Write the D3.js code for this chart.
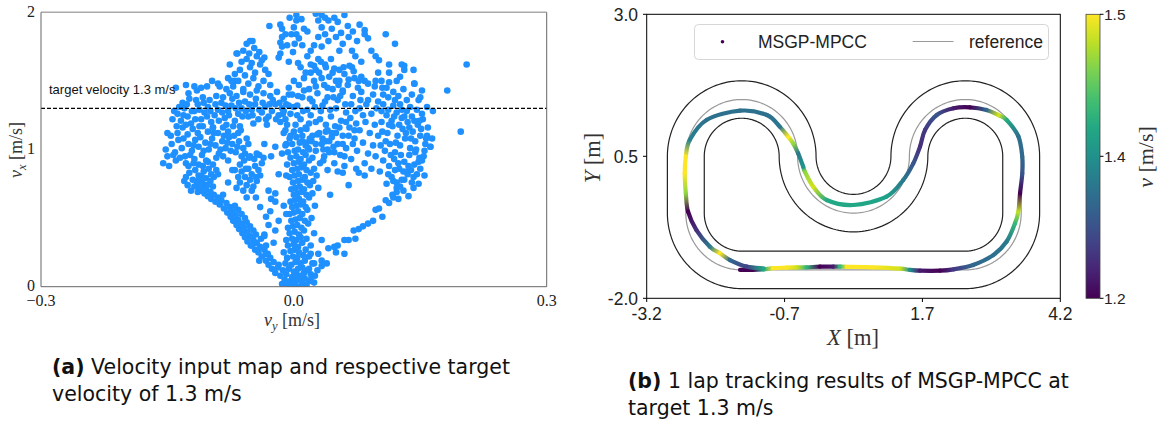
<!DOCTYPE html>
<html><head><meta charset="utf-8">
<script src="https://cdn.jsdelivr.net/npm/d3@7"></script>
<style>body{margin:0;background:#fff}svg{display:block}</style>
</head><body>
<svg id="fig" width="1168" height="427"></svg>
<script>
// ---------- (a) velocity input map, points as [vy*1000, vx*100]
var sApex=[[-14,2],[-8,1],[-3,0],[2,1],[6,0],[11,2],[15,1],[-11,5],[-5,4],[0,3],[4,5],[9,4],[13,6],[18,4],[20,5],[25,8],[28,12],[24,3],
[-16,8],[-9,9],[-2,7],[3,9],[7,8],[12,10],[20,9],[-13,12],[-6,13],[0,11],[5,13],[10,14],[16,12],
[-18,16],[-10,17],[-3,16],[2,18],[8,17],[13,19],[22,17],[-8,21],[-1,22],[4,21],[11,23],[18,22],
[-12,25],[-4,26],[1,27],[6,25],[14,27],[-7,30],[0,31],[5,29],[10,32],[20,30],
[-9,34],[-2,35],[3,34],[8,36],[15,35],[-5,39],[1,40],[6,38],[12,41],[24,39],
[-7,43],[-1,44],[4,45],[9,43],[17,46],[-3,48],[2,49],[7,50],[13,48],[21,50],
[-5,53],[0,54],[5,55],[10,53],[16,56],[-2,58],[3,59],[8,60],[14,58],[25,59],
[-4,62],[1,63],[6,64],[11,62],[18,65],[0,67],[4,68],[9,69],[15,67],[22,68],
[-3,71],[2,72],[7,73],[12,71],[19,74],[29,72],[-1,76],[5,77],[10,78],[16,76],[23,77],
[-5,80],[1,81],[6,82],[13,80],[20,83],[27,81],[-2,85],[4,86],[9,87],[15,85],[24,86],
[-8,89],[0,90],[6,91],[12,89],[18,92],[31,90],[-4,94],[3,95],[8,93],[14,96],[22,94],[36,95],
[-7,98],[1,99],[5,100],[11,98],[17,101],[26,99],[40,100],[-10,103],[-2,104],[7,105],[14,103],[21,106],[33,104],
[-5,108],[3,109],[10,110],[19,108],[28,111],[45,109],[-12,112],[0,113],[8,114],[15,115],[38,113]]
var sLeftArm=[[-22,10],[-26,13],[-19,14],[-30,16],[-24,18],[-33,19],[-28,21],
[-38,22],[-31,24],[-42,25],[-35,27],[-46,27],[-40,29],[-51,30],[-33,30],
[-44,32],[-55,33],[-48,34],[-39,35],[-58,36],[-52,37],[-45,38],[-61,39],[-55,40],
[-48,41],[-65,42],[-59,43],[-52,44],[-68,45],[-62,46],[-56,47],[-72,48],[-66,49],[-58,50],
[-75,51],[-69,52],[-62,53],[-79,54],[-73,55],[-66,56],[-83,57],[-76,58],[-70,59],[-88,60],
[-80,61],[-93,62],[-86,63],[-98,64],[-90,65],[-102,66],[-95,67],[-84,67],[-106,68],[-99,69],[-110,70],
[-104,71],[-112,72],[-96,73],[-115,74],[-108,75],
[-35,37],[-30,45],[-28,55],[-40,58],[-22,62],[-45,65],[-30,70],[-18,48],[-50,30]]
var sLeftLow=[[-128,80],[-124,83],[-120,78],[-117,85],[-113,81],[-110,76],[-107,84],[-104,79],[-101,86],[-98,82],[-126,74],[-122,70],[-118,73],[-114,69],[-111,72],[-106,71],[-103,74],[-99,77],[-95,80],[-92,85],[-125,88],[-119,90],[-113,89],[-108,88],[-102,91],[-96,89],[-130,77],[-115,77],[-109,80],
[-68,72],[-64,76],[-60,70],[-56,74],[-52,78],[-48,73],[-44,77],[-40,81],[-66,80],[-62,84],[-58,80],[-54,86],[-50,82],[-46,88],[-42,85],[-38,90],[-64,89],[-59,92],[-53,94],[-47,93],[-41,96],[-36,94],[-70,85],[-45,80],[-57,86],[-50,70],[-62,95]]
var sLeftMid=[[-155,90],[-150,95],[-148,88],[-152,100],[-145,104],[-141,98],[-137,107],[-133,101],[-129,95],[-125,104],[-121,99],[-117,107],[-113,102],[-109,96],[-105,105],[-101,100],[-97,108],[-93,103],[-89,97],[-85,106],[-81,101],[-77,109],[-73,104],[-69,98],[-65,106],[-138,112],[-132,116],[-126,111],[-120,115],[-114,112],[-108,117],[-102,113],[-96,116],[-90,112],[-84,116],[-78,113],[-72,117],[-66,112],[-60,101],[-56,108],[-140,92],[-128,90],[-118,93],[-104,92],[-92,94],[-146,110],[-150,112],
[-143,96],[-135,94],[-131,108],[-123,96],[-119,103],[-111,109],[-107,99],[-99,104],[-95,112],[-87,100],[-83,110],[-79,105],[-75,99],[-71,110],[-67,102],[-63,114],[-58,97],[-54,104]]
var sUpperLeft=[[-138,126],[-134,121],[-130,130],[-126,124],[-122,119],[-118,128],[-114,133],[-110,122],[-106,127],[-102,131],[-98,120],[-94,125],[-90,129],[-86,134],[-82,123],[-78,128],[-74,132],[-70,121],[-66,126],[-62,130],[-58,135],[-54,124],[-50,129],[-46,133],[-42,122],[-38,127],[-34,131],[-30,124],[-26,128],[-22,133],[-18,125],[-14,130],[-10,122],
[-132,134],[-124,137],[-116,136],[-108,138],[-100,136],[-92,139],[-84,138],[-76,141],[-68,139],[-60,142],[-52,140],[-44,143],[-36,141],[-28,139],[-20,142],[-12,137],
[-128,118],[-112,117],[-96,116],[-80,118],[-64,117],[-48,119],[-32,118],[-16,120],[-4,126],[0,131],
[-140,145],[-128,147],[-115,143],[-103,146],[-90,148],[-80,144],[-70,150],[-97,150],[-118,146],[-125,141],[-110,145],[-88,146],[-74,150],
[-136,131],[-131,125],[-127,133],[-121,128],[-117,122],[-112,129],[-107,134],[-103,124],[-99,128],[-93,133],[-89,121],[-85,127],[-81,132],[-77,125],[-73,137],[-69,130],[-65,134],[-61,124],[-57,128],[-53,133],[-49,125],[-45,137],[-41,129],[-37,134],[-33,122],[-29,133],[-25,136],[-21,122],[-17,134],[-13,126],[-9,133],[-6,140],[-142,128],[-144,122],[-139,117],
[-72,146],[-66,150],[-60,144],[-54,148],[-48,152],[-42,146],[-36,150],[-70,155],[-64,158],[-58,154],[-52,160],[-46,156],[-40,162],[-34,158],[-62,164],[-56,166],[-50,163],[-44,168],[-38,165],[-68,170],[-60,172],[-53,170],[-47,174],[-41,171],[-35,167],[-56,177],[-49,179],[-76,162],[-78,152],[-30,155],[-28,147],[-67,170],[-52,179]]
var sTop=[[-29,190],[-16,191],[-14,188],[-10,184],[-14,182],[-16,178],[-14,175],[-16,170],[-18,167],[-3,184],[3,184],[1,177],[3,198],[3,194],[9,195],[26,199],[29,194],[33,198],[37,196],[41,194],[48,196],[52,193],[60,198],[33,189],[37,184],[29,182],[24,176],[33,175],[41,179],[50,182],[56,185],[58,177],[54,172],[65,182],[69,172],[75,179],[84,187],[84,184],[88,181],[92,172],[97,168],[101,165],[109,184],[120,177],[128,162],[131,161],[20,172],[16,168],[29,166],[24,161],[37,162],[20,156],[46,156],[54,158],[69,160],[80,153],[88,148],[97,150],[105,145],[113,162],[113,156],[113,149],[80,164],[73,168],[58,143],[50,150],[143,148],
[-5,196],[0,189],[12,188],[6,181],[-8,176],[-1,171],[10,176],[16,186],[45,188],[64,190],[70,186],[78,191],[-6,164],[5,163]]
var sCenter=[[2,118],[8,122],[14,116],[20,125],[26,120],[32,128],[38,118],[44,124],[50,130],[56,121],[62,127],[68,133],[74,119],[4,132],[10,138],[16,129],[22,135],[28,141],[34,132],[40,138],[46,144],[52,136],[58,142],[64,147],[70,139],[76,145],[6,147],[12,152],[18,144],[24,150],[30,156],[36,147],[42,153],[48,159],[54,150],[60,155],[66,161],[72,152],[-2,140],[0,150],[-6,145],[8,160],[14,156],[20,162],[26,158],[32,164],[38,160],[44,166],[15,105],[22,110],[30,112],[42,106],[50,112],[58,104],[65,110],[72,114],[35,100],[48,98],[60,95],[-8,118],[-12,128],[-6,132],[82,125],[86,133],[80,142],[84,150],
[4,125],[11,128],[18,119],[25,131],[31,122],[37,135],[43,129],[49,117],[55,139],[61,133],[67,123],[73,128],[79,136],[5,139],[12,143],[19,137],[26,146],[33,152],[40,145],[47,138],[53,147],[59,160],[65,151],[71,157],[77,150],[10,106],[18,100],[26,104],[34,108],[40,114],[47,102],[54,116],[62,120],[70,104],[-4,110],[-10,114]]
var sRight=[[110,75],[116,80],[122,72],[128,78],[134,84],[140,76],[146,82],[113,88],[119,93],[125,86],[131,91],[137,96],[143,89],[149,94],[155,99],[108,99],[114,104],[120,98],[126,103],[132,108],[138,101],[144,106],[150,110],[156,104],[162,102],[111,112],[117,117],[123,110],[129,115],[135,120],[141,113],[147,118],[153,122],[159,116],[104,120],[110,125],[116,121],[122,127],[128,123],[134,128],[140,124],[146,129],[152,126],[98,130],[104,128],[96,118],[100,110],[106,92],[102,84],[117,67],[124,64],[130,70],[136,66],[142,72],[150,86],[158,110],[164,108],[105,113],[92,126],[118,132],[126,133],[138,131],[144,98],[148,75],[120,85],
[112,82],[118,77],[124,90],[130,84],[136,88],[142,80],[148,91],[154,95],[109,106],[115,96],[121,105],[127,96],[133,112],[139,108],[145,100],[151,115],[157,108],[113,118],[119,124],[125,118],[131,124],[137,116],[143,121],[149,121],[106,133],[112,129],[120,136],[128,129],[103,103],[97,95],
[35,92],[42,98],[48,90],[55,96],[62,101],[68,93],[75,99],[82,105],[88,97],[94,103],[38,106],[45,112],[52,104],[58,110],[66,116],[72,108],[78,114],[85,120],[90,112],[40,85],[52,84],[60,88],[74,86],[84,90],[92,86],[78,130],[88,136],[94,140],[100,135],[106,140],[112,138],[96,146],[104,150],[110,145],[118,142],[124,139],[130,144],[140,140],[148,136],[134,136],[122,150],[100,156],
[43,67],[58,83],[65,74],[77,83],[84,81]]
var sRightArm=[[18,13],[24,17],[33,19],[29,24],[41,28],[48,29],[52,30],[60,34],[65,34],[73,35],[71,41],[77,42],[82,44],[88,46],[94,48],[97,56],[101,57],[105,51],[109,63],[113,61],[118,65],[122,69],[126,73],[122,76],[131,78],[135,82],[139,85],[155,81],[152,92],[33,15],[39,17],[20,24],[33,34],[50,25],[60,24]]
var sSparse=[[-22,68],[-9,53],[-33,51],[-22,41],[-35,38],[-24,32],[-33,24],[-41,19],[-27,64],[-12,59],[-18,82],[-9,81],[-27,95],[-14,97],[-22,102],[-9,104],[-35,104],[-44,97],[-52,95],[-73,85],[-78,92],[-84,95],[-90,82],[-78,76],[-56,65],
[205,162],[182,143],[198,113],[165,128],[162,102],[158,131],[150,138],[143,148],[142,158],[152,143],[131,158],[126,153]]
var targetV=1.3
var vyTicks=[-0.3,0,0.3]
var vxTicks=[0,1,2]

// ---------- (b) track (centre line pieces) and lap
var trackSegs=[["L",-1.5,-1.5,2.5,-1.5],["A",2.5,-0.5,1,-90,0],["L",3.5,-0.5,3.5,0.5],["A",2.5,0.5,1,0,180],
["A",0.5,0.5,1,0,-180],["A",-1.5,0.5,1,0,180],["L",-2.5,0.5,-2.5,-0.5],["A",-1.5,-0.5,1,180,270]]
var halfWidth=0.33
var trajX=[-1.53,-1.30,-1.11,-0.94,-0.70,-0.52,-0.34,-0.10,0.14,0.26,0.38,0.85,1.33,1.51,1.69,2.05,2.29,2.64,3.00,3.24,3.39,3.45,3.48,3.52,3.52,3.45,3.24,3.09,2.88,2.58,2.29,1.99,1.78,1.69,1.57,1.39,1.09,0.50,0.02,-0.22,-0.37,-0.40,-0.49,-0.58,-0.67,-0.82,-1.05,-1.53,-2.13,-2.43,-2.50,-2.52,-2.50,-2.46,-2.31,-2.07,-1.89,-1.71,-1.41,-1.11]
var trajY=[-1.50,-1.50,-1.49,-1.47,-1.46,-1.455,-1.455,-1.443,-1.443,-1.443,-1.445,-1.455,-1.478,-1.50,-1.514,-1.514,-1.49,-1.414,-1.24,-1.00,-0.68,-0.475,-0.15,0.20,0.49,0.85,1.14,1.227,1.315,1.362,1.345,1.227,0.963,0.67,0.376,0.083,-0.211,-0.357,-0.269,-0.035,0.229,0.317,0.552,0.728,0.846,1.022,1.227,1.303,1.139,0.787,0.494,0.20,-0.152,-0.475,-0.798,-1.091,-1.208,-1.326,-1.443,-1.472]
var trajV=[1.20,1.20,1.38,1.50,1.50,1.48,1.40,1.20,1.22,1.40,1.50,1.50,1.48,1.35,1.22,1.20,1.25,1.30,1.31,1.32,1.40,1.47,1.20,1.28,1.30,1.31,1.38,1.48,1.30,1.20,1.22,1.28,1.25,1.24,1.28,1.32,1.37,1.38,1.38,1.48,1.45,1.36,1.32,1.45,1.50,1.32,1.31,1.31,1.31,1.33,1.50,1.50,1.45,1.20,1.24,1.32,1.50,1.30,1.26,1.38]
var xTicksB=[-3.2,-0.733,1.733,4.2]
var yTicksB=[-2,0.5,3]
var cbLabels=["1.2","1.4","1.5"]
var vRange=[1.2,1.5]

var svg=d3.select('#fig')

// ===== panel (a)
var xa=d3.scaleLinear().domain([-0.3,0.3]).range([41,546.7])
var ya=d3.scaleLinear().domain([0,2]).range([286.7,12.3])
var scatter=[].concat(sApex,sLeftArm,sLeftLow,sLeftMid,sUpperLeft,sTop,sCenter,sRight,sRightArm,sSparse)
svg.append('clipPath').attr('id','clipA').append('rect')
  .attr('x',41).attr('y',12.3).attr('width',505.7).attr('height',274.4)
svg.append('g').attr('clip-path','url(#clipA)')
  .selectAll('circle').data(scatter).enter().append('circle')
  .attr('cx',d=>xa(d[0]/1000)).attr('cy',d=>ya(d[1]/100)).attr('r',3.3)
  .attr('fill','#1e90ff')
svg.append('line').attr('x1',41).attr('x2',546.7).attr('y1',ya(targetV)).attr('y2',ya(targetV))
  .attr('stroke','#000').attr('stroke-width',1.2).attr('stroke-dasharray','4,2')
svg.append('text').attr('x',49).attr('y',93.5).text('target velocity 1.3 m/s')
  .attr('font-family','Liberation Sans').attr('font-size','13px').attr('fill','#111')
// frame
svg.append('line').attr('x1',41).attr('x2',546.7).attr('y1',12.3).attr('y2',12.3).attr('stroke','#aaa').attr('stroke-width',1.6)
svg.append('line').attr('x1',41).attr('x2',546.7).attr('y1',286.7).attr('y2',286.7).attr('stroke','#666')
svg.append('line').attr('x1',41).attr('x2',41).attr('y1',12.3).attr('y2',286.7).attr('stroke','#666')
svg.append('line').attr('x1',546.7).attr('x2',546.7).attr('y1',12.3).attr('y2',286.7).attr('stroke','#666')
var fmtA=d3.format('.1f')
svg.selectAll('.xta').data(vyTicks).enter().append('text').attr('class','xta')
  .attr('x',d=>xa(d)).attr('y',306).attr('text-anchor','middle').text(d=>fmtA(d))
  .attr('font-family','Liberation Serif').attr('font-size','16px').attr('fill','#222')
svg.selectAll('.yta').data(vxTicks).enter().append('text').attr('class','yta')
  .attr('x',35).attr('y',d=>ya(d)-1).attr('dy','0.35em').attr('text-anchor','end').text(d=>d)
  .attr('font-family','Liberation Serif').attr('font-size','16px').attr('fill','#222')
var xl=svg.append('text').attr('x',292).attr('y',326).attr('text-anchor','middle')
  .attr('font-family','Liberation Serif').attr('font-size','18px').attr('fill','#333')
xl.append('tspan').attr('font-style','italic').text('v')
xl.append('tspan').attr('font-style','italic').attr('font-size','12.5px').attr('dy',4).text('y')
xl.append('tspan').attr('dy',-4).text(' [m/s]')
var yl=svg.append('text').attr('transform','translate(22,150) rotate(-90)').attr('text-anchor','middle')
  .attr('font-family','Liberation Serif').attr('font-size','18px').attr('fill','#333')
yl.append('tspan').attr('font-style','italic').text('v')
yl.append('tspan').attr('font-style','italic').attr('font-size','12.5px').attr('dy',4).text('x')
yl.append('tspan').attr('dy',-4).text(' [m/s]')

// ===== panel (b)
var xb=d3.scaleLinear().domain([-3.2,4.2]).range([646.7,1060.3])
var yb=d3.scaleLinear().domain([-2,3]).range([298.3,14.3])
var col=d3.scaleSequential(d3.interpolateViridis).domain(vRange)

function segPts(s,off){
  var pts=[]
  if(s[0]=='L'){
    var dx=s[3]-s[1],dy=s[4]-s[2],L=Math.hypot(dx,dy),nx=dy/L,ny=-dx/L
    pts.push([s[1]+off*nx,s[2]+off*ny],[s[3]+off*nx,s[4]+off*ny])
  } else {
    var cw=s[5]<s[4],r=s[3]+(cw?-off:off),n=80
    for(var k=0;k<=n;k++){
      var a=(s[4]+(s[5]-s[4])*k/n)*Math.PI/180
      pts.push([s[1]+r*Math.cos(a),s[2]+r*Math.sin(a)])
    }
  }
  return pts
}
function loop(off){
  var all=[]
  trackSegs.forEach(s=>{all=all.concat(segPts(s,off))})
  return all
}
var ln=d3.line().x(d=>xb(d[0])).y(d=>yb(d[1]))
svg.append('path').attr('d',ln(loop(halfWidth))+'Z').attr('fill','none').attr('stroke','#222').attr('stroke-width',1.2)
svg.append('path').attr('d',ln(loop(-halfWidth))+'Z').attr('fill','none').attr('stroke','#222').attr('stroke-width',1.2)
svg.append('path').attr('d',ln(loop(0))+'Z').attr('fill','none').attr('stroke','#999').attr('stroke-width',1.2)

// lap, drawn piece by piece with colour gradients
var P=trajX.map((x,i)=>[xb(x),yb(trajY[i])])
var defs=svg.append('defs')
var tg=svg.append('g')
for(var i=0;i<P.length-1;i++){
  var p0=P[Math.max(i-1,0)],p1=P[i],p2=P[i+1],p3=P[Math.min(i+2,P.length-1)]
  var c1=[p1[0]+(p2[0]-p0[0])/6,p1[1]+(p2[1]-p0[1])/6]
  var c2=[p2[0]-(p3[0]-p1[0])/6,p2[1]-(p3[1]-p1[1])/6]
  var g=defs.append('linearGradient').attr('id','tg'+i).attr('gradientUnits','userSpaceOnUse')
    .attr('x1',p1[0]).attr('y1',p1[1]).attr('x2',p2[0]).attr('y2',p2[1])
  g.append('stop').attr('offset',0).attr('stop-color',col(trajV[i]))
  g.append('stop').attr('offset',1).attr('stop-color',col(trajV[i+1]))
  tg.append('path').attr('d','M'+p1+'C'+c1+' '+c2+' '+p2)
    .attr('fill','none').attr('stroke','url(#tg'+i+')').attr('stroke-width',4.2).attr('stroke-linecap','round')
}

// frame + ticks
svg.append('rect').attr('x',646.7).attr('y',14.3).attr('width',413.6).attr('height',284)
  .attr('fill','none').attr('stroke','#000').attr('stroke-width',1)
var fmtB=d=>d3.format('.1f')(d).replace('\u2212','-')
svg.selectAll('.xtb').data(xTicksB).enter().append('line').attr('class','xtb')
  .attr('x1',d=>xb(d)).attr('x2',d=>xb(d)).attr('y1',298.3).attr('y2',302).attr('stroke','#000')
svg.selectAll('.xtbl').data(xTicksB).enter().append('text').attr('class','xtbl')
  .attr('x',d=>xb(d)).attr('y',320).attr('text-anchor','middle').text(fmtB)
  .attr('font-family','Liberation Sans').attr('font-size','17.5px').attr('fill','#222')
svg.selectAll('.ytb').data(yTicksB).enter().append('line').attr('class','ytb')
  .attr('x1',643).attr('x2',646.7).attr('y1',d=>yb(d)).attr('y2',d=>yb(d)).attr('stroke','#000')
svg.selectAll('.ytbl').data(yTicksB).enter().append('text').attr('class','ytbl')
  .attr('x',638).attr('y',d=>yb(d)).attr('dy','0.36em').attr('text-anchor','end').text(fmtB)
  .attr('font-family','Liberation Sans').attr('font-size','17.5px').attr('fill','#222')
var xlb=svg.append('text').attr('x',853).attr('y',345).attr('text-anchor','middle')
  .attr('font-family','Liberation Serif').attr('font-size','22.5px').attr('fill','#333')
xlb.append('tspan').attr('font-style','italic').text('X')
xlb.append('tspan').text(' [m]')
var ylb=svg.append('text').attr('transform','translate(600,158) rotate(-90)').attr('text-anchor','middle')
  .attr('font-family','Liberation Serif').attr('font-size','22.5px').attr('fill','#333')
ylb.append('tspan').attr('font-style','italic').text('Y')
ylb.append('tspan').text(' [m]')

// legend
svg.append('rect').attr('x',694.5).attr('y',24.5).attr('width',354).attr('height',35).attr('rx',4)
  .attr('fill','#fff').attr('fill-opacity',0.8).attr('stroke','#d6d6d6')
svg.append('circle').attr('cx',722.5).attr('cy',41.7).attr('r',1.8).attr('fill',col(vRange[0]))
svg.append('text').attr('x',758).attr('y',48).text('MSGP-MPCC')
  .attr('font-family','Liberation Sans').attr('font-size','17.5px').attr('fill','#222')
svg.append('line').attr('x1',912.7).attr('x2',953.5).attr('y1',41.5).attr('y2',41.5).attr('stroke','#999').attr('stroke-width',1.2)
svg.append('text').attr('x',969).attr('y',48).text('reference')
  .attr('font-family','Liberation Sans').attr('font-size','17.5px').attr('fill','#222')

// colorbar
var cg=defs.append('linearGradient').attr('id','cbar').attr('x1',0).attr('y1',1).attr('x2',0).attr('y2',0)
d3.range(0,1.0001,0.1).forEach(t=>cg.append('stop').attr('offset',t).attr('stop-color',d3.interpolateViridis(t)))
svg.append('rect').attr('x',1086).attr('y',14.3).attr('width',14).attr('height',284)
  .attr('fill','url(#cbar)').attr('stroke','#444').attr('stroke-width',0.8)
var cbPos=d3.scalePoint().domain(cbLabels).range([298.3,14.3])
svg.selectAll('.cbt').data(cbLabels).enter().append('line').attr('class','cbt')
  .attr('x1',1100).attr('x2',1103.5).attr('y1',d=>cbPos(d)).attr('y2',d=>cbPos(d)).attr('stroke','#000')
svg.selectAll('.cbl').data(cbLabels).enter().append('text').attr('class','cbl')
  .attr('x',1104).attr('y',d=>cbPos(d)).attr('dy','0.36em').text(d=>d)
  .attr('font-family','Liberation Sans').attr('font-size','15.5px').attr('fill','#222')
var cbl=svg.append('text').attr('transform','translate(1153,157) rotate(-90)').attr('text-anchor','middle')
  .attr('font-family','Liberation Serif').attr('font-size','22px').attr('fill','#333')
cbl.append('tspan').attr('font-style','italic').text('v')
cbl.append('tspan').text(' [m/s]')

// ===== captions
function caption(x,y,tag,lines){
  var t=svg.append('text').attr('x',x).attr('y',y).attr('font-family','DejaVu Sans').attr('font-size','20.5px').attr('fill','#111')
  t.append('tspan').attr('font-weight','bold').text(tag)
  t.append('tspan').text(' '+lines[0])
  svg.append('text').attr('x',x).attr('y',y+27).text(lines[1])
    .attr('font-family','DejaVu Sans').attr('font-size','20.5px').attr('fill','#111')
}
caption(52,374,'(a)',['Velocity input map and respective target','velocity of 1.3 m/s'])
caption(628,388,'(b)',['1 lap tracking results of MSGP-MPCC at','target 1.3 m/s'])
</script>
</body></html>
